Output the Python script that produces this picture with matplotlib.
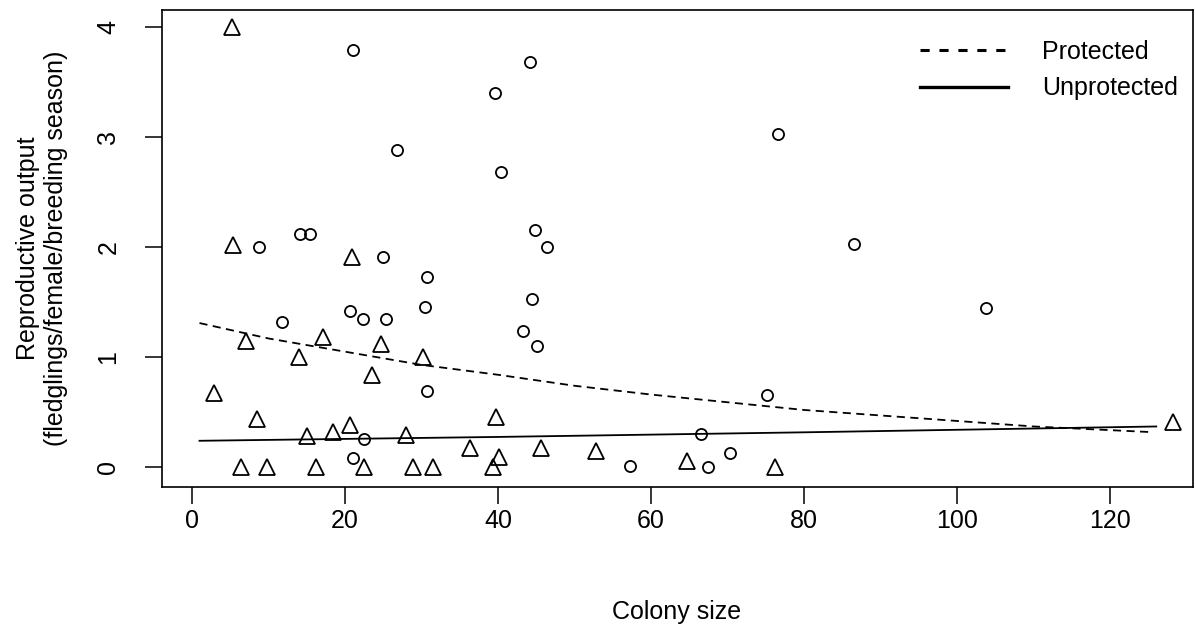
import matplotlib
matplotlib.use("Agg")
import matplotlib.pyplot as plt
from matplotlib.lines import Line2D

plt.rcParams['font.family'] = ['Liberation Sans', 'DejaVu Sans']

# protected colonies (circles)
prot_x = [21.1, 39.6, 26.8, 40.4, 44.2, 76.6, 44.8, 46.4, 14.1, 15.4, 8.8,
          25.0, 30.7, 30.5, 20.6, 22.3, 25.4, 11.8, 30.7, 22.5, 21.0, 44.4,
          43.3, 45.1, 57.3, 66.5, 67.4, 70.3, 75.1, 86.5, 103.8]
prot_y = [3.79, 3.40, 2.88, 2.68, 3.68, 3.03, 2.16, 2.00, 2.12, 2.12, 2.00,
          1.91, 1.73, 1.46, 1.42, 1.35, 1.35, 1.32, 0.69, 0.26, 0.08, 1.53,
          1.24, 1.10, 0.01, 0.30, 0.00, 0.13, 0.66, 2.03, 1.45]

# unprotected colonies (triangles)
unprot_x = [5.2, 5.4, 20.9, 7.1, 17.1, 14.0, 24.7, 30.2, 23.6, 2.9, 8.5,
            15.0, 18.5, 20.6, 28.0, 36.3, 6.4, 9.8, 16.2, 22.5, 28.9, 31.5,
            39.4, 39.8, 40.1, 45.6, 52.8, 64.7, 76.2, 128.2]
unprot_y = [4.00, 2.02, 1.91, 1.15, 1.18, 1.00, 1.12, 1.00, 0.84, 0.67, 0.44,
            0.28, 0.32, 0.38, 0.29, 0.17, 0.00, 0.00, 0.00, 0.00, 0.00, 0.00,
            0.00, 0.46, 0.09, 0.17, 0.15, 0.06, 0.00, 0.41]

# fitted curves
fit_prot_x = [1, 10, 20, 30, 40, 50, 60, 70, 80, 90, 100, 110, 125]
fit_prot_y = [1.31, 1.17, 1.05, 0.93, 0.84, 0.74, 0.66, 0.59, 0.52, 0.47, 0.42, 0.37, 0.32]
fit_unprot_x = [1, 20, 40, 60, 80, 100, 126]
fit_unprot_y = [0.24, 0.257, 0.275, 0.296, 0.317, 0.34, 0.37]

xticks = [0, 20, 40, 60, 80, 100, 120]
yticks = [0, 1, 2, 3, 4]

fig = plt.figure(figsize=(11.96, 6.28), dpi=100)
ax = fig.add_axes([162/1196, 1 - 487/628, (1193-162)/1196, (487-10)/628])

ax.plot(prot_x, prot_y, 'o', ms=8, mfc='none', mec='black', mew=1.3, ls='none')
ax.plot(unprot_x, unprot_y, '^', ms=11.5, mfc='none', mec='black', mew=1.3, ls='none')
ax.plot(fit_prot_x, fit_prot_y, color='black', lw=1.3, dashes=(4.5, 3))
ax.plot(fit_unprot_x, fit_unprot_y, color='black', lw=1.3)

ax.set_xlim(-3.9, 130.8)
ax.set_ylim(-0.18, 4.155)
ax.set_xticks(xticks)
ax.set_yticks(yticks)
ax.tick_params(length=12, width=1.1, labelsize=18, pad=4)
ax.tick_params(axis='y', pad=18)
for lab in ax.get_yticklabels():
    lab.set_rotation(90)
    lab.set_va('center')
for s in ax.spines.values():
    s.set_linewidth(1.2)

handles = [Line2D([], [], color='black', lw=2.2, dashes=(3, 3.2)),
           Line2D([], [], color='black', lw=2.4)]
ax.legend(handles, ['Protected', 'Unprotected'], loc='upper left',
          bbox_to_anchor=(920/1196, 1 - 40/628), bbox_transform=fig.transFigure,
          frameon=False, fontsize=18, handlelength=3.5, handletextpad=1.4,
          labelspacing=0.5, borderpad=0, borderaxespad=0)

fig.text(677/1196, 1 - 612/628, 'Colony size', ha='center', va='center', fontsize=18)
fig.text(42/1196, 1 - 248/628, 'Reproductive output\n(fledglings/female/breeding season)',
         ha='center', va='center', rotation=90, fontsize=18, linespacing=1.2)

fig.savefig('out.png', dpi=100)
